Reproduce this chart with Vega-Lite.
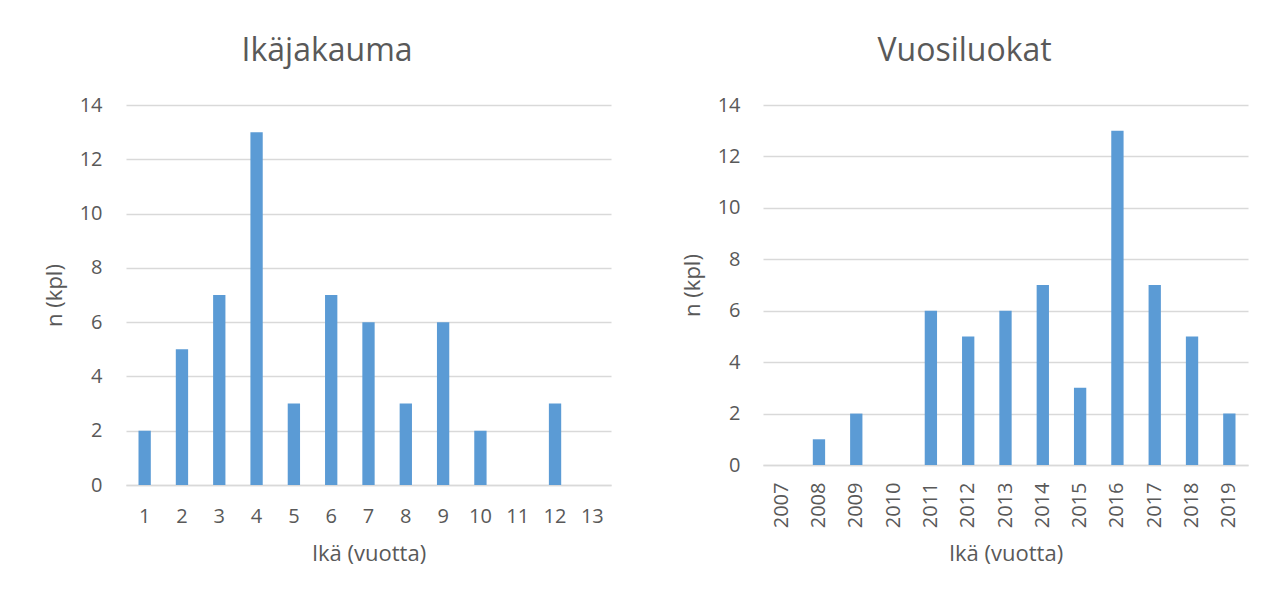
{
  "$schema": "https://vega.github.io/schema/vega-lite/v6.json",
  "background": "white",
  "padding": {"left": 43, "top": 35, "right": 5, "bottom": 5},
  "spacing": 70,
  "config": {
    "font": "Open Sans",
    "view": {"stroke": null},
    "title": {"fontSize": 32, "font": "Open Sans", "fontWeight": "normal", "color": "#595959", "anchor": "middle", "frame": "bounds", "offset": 27},
    "axis": {"labelColor": "#595959", "titleColor": "#595959", "labelFont": "Open Sans", "titleFont": "Open Sans", "labelFontSize": 20, "titleFontSize": 22, "titleFontWeight": "normal", "ticks": false, "gridColor": "#d9d9d9", "gridWidth": 1.5, "domainColor": "#d9d9d9", "domainWidth": 1.5},
    "bar": {"color": "#5b9bd5"}
  },
  "datasets": {
    "ika": [
      {"ika": "1", "n": 2}, {"ika": "2", "n": 5}, {"ika": "3", "n": 7}, {"ika": "4", "n": 13},
      {"ika": "5", "n": 3}, {"ika": "6", "n": 7}, {"ika": "7", "n": 6}, {"ika": "8", "n": 3},
      {"ika": "9", "n": 6}, {"ika": "10", "n": 2}, {"ika": "11", "n": 0}, {"ika": "12", "n": 3},
      {"ika": "13", "n": 0}
    ],
    "vuosi": [
      {"vuosi": "2007", "n": 0}, {"vuosi": "2008", "n": 1}, {"vuosi": "2009", "n": 2}, {"vuosi": "2010", "n": 0},
      {"vuosi": "2011", "n": 6}, {"vuosi": "2012", "n": 5}, {"vuosi": "2013", "n": 6}, {"vuosi": "2014", "n": 7},
      {"vuosi": "2015", "n": 3}, {"vuosi": "2016", "n": 13}, {"vuosi": "2017", "n": 7}, {"vuosi": "2018", "n": 5},
      {"vuosi": "2019", "n": 2}
    ]
  },
  "hconcat": [
    {
      "title": "Ikäjakauma",
      "width": 485,
      "height": 380,
      "data": {"name": "ika"},
      "mark": {"type": "bar"},
      "encoding": {
        "x": {"field": "ika", "type": "ordinal", "sort": null, "title": "Ikä (vuotta)",
          "scale": {"paddingInner": 0.67, "paddingOuter": 0.335},
          "axis": {"labelAngle": 0, "labelPadding": 21, "titlePadding": 17, "domain": true}},
        "y": {"field": "n", "type": "quantitative", "title": "n (kpl)",
          "scale": {"domain": [0, 14]},
          "axis": {"values": [0, 2, 4, 6, 8, 10, 12, 14], "domain": false, "labelPadding": 24, "titlePadding": 13}}
      }
    },
    {
      "title": "Vuosiluokat",
      "width": 485,
      "height": 360,
      "data": {"name": "vuosi"},
      "mark": {"type": "bar"},
      "encoding": {
        "x": {"field": "vuosi", "type": "ordinal", "sort": null, "title": "Ikä (vuotta)",
          "scale": {"paddingInner": 0.67, "paddingOuter": 0.335},
          "axis": {"labelAngle": 270, "labelPadding": 17, "titlePadding": 16, "domain": true}},
        "y": {"field": "n", "type": "quantitative", "title": "n (kpl)",
          "scale": {"domain": [0, 14]},
          "axis": {"values": [0, 2, 4, 6, 8, 10, 12, 14], "domain": false, "labelPadding": 23, "titlePadding": 13}}
      }
    }
  ]
}
